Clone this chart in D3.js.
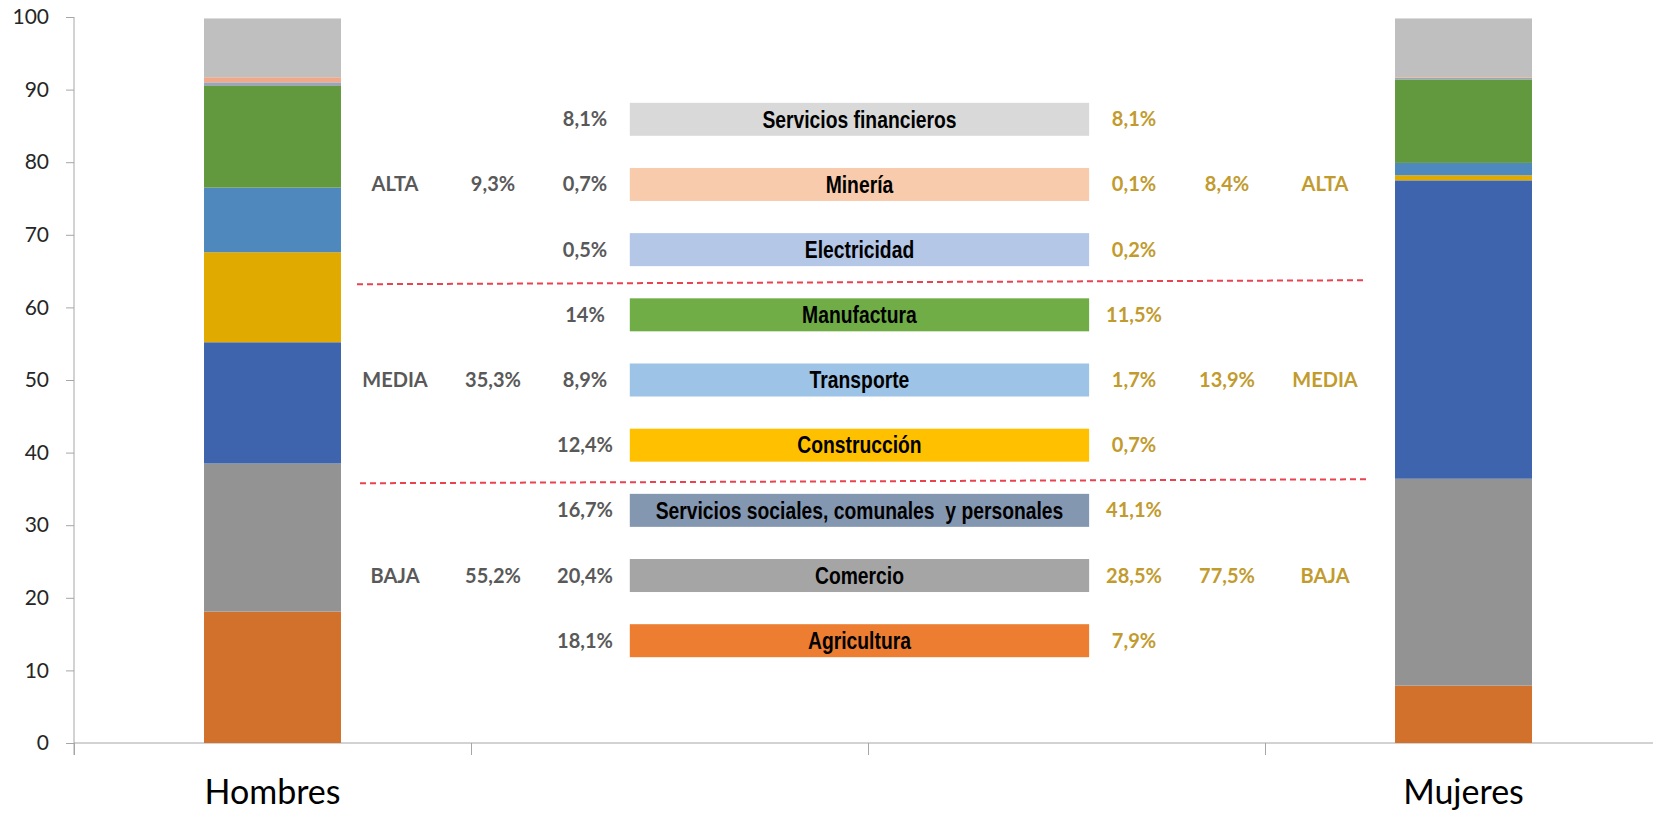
<!DOCTYPE html>
<meta charset="utf-8">
<style>
    body { margin: 0; background: #fff; }
    .axis path, .axis line { stroke: #a6a6a6; }
    .axis text { font-family: Lato, "Open Sans", sans-serif; fill: #262626; }
    .box-label { font-family: "Liberation Sans", Arial, sans-serif; font-weight: bold; font-size: 23px; fill: #000; white-space: pre; }
    .pct { font-family: Lato, "Open Sans", sans-serif; font-weight: bold; font-size: 20px; }
    .pct.h { fill: #595959; }
    .pct.m { fill: #c29b2e; }
    .cat { font-family: Lato, "Open Sans", sans-serif; font-size: 34px; fill: #000; }
</style>
<body>
<div id="chart"></div>
<script src="https://cdn.jsdelivr.net/npm/d3@7"></script>
<script>
    // sectors, stacked from bottom to top
    var sectors = ["Agricultura", "Comercio", "Servicios sociales, comunales  y personales", "Construcción",
        "Transporte", "Manufactura", "Electricidad", "Minería", "Servicios financieros"];
    var hombres = [18.1, 20.4, 16.7, 12.4, 8.9, 14, 0.5, 0.7, 8.1];
    var mujeres = [7.9, 28.5, 41.1, 0.7, 1.7, 11.5, 0.2, 0.1, 8.1];

    // productivity groups (bottom to top) and their totals
    var groups = ["BAJA", "MEDIA", "ALTA"];
    var groupRow = [1, 4, 7]; // sector index where the group label sits
    var hombresGrupo = [55.2, 35.3, 9.3];
    var mujeresGrupo = [77.5, 13.9, 8.4];

    var categories = ["Hombres", "c2", "c3", "Mujeres"];
    var yTicks = [0, 10, 20, 30, 40, 50, 60, 70, 80, 90, 100];

    var barColors = ["#d2712b", "#939393", "#3d64ad", "#e0aa00", "#4e88bd", "#63993e", "#9aa5b5", "#f0a88a", "#bfbfbf"];
    var boxColors = ["#ed7d31", "#a5a5a5", "#8497b0", "#ffc000", "#9dc3e6", "#70ad47", "#b4c7e7", "#f8cbad", "#d9d9d9"];

    var W = 1653, H = 813;
    var margin = {top: 17, left: 74, bottom: 70};
    var plotBottom = H - margin.bottom; // 743

    var svg = d3.select("#chart").append("svg")
        .attr("width", W)
        .attr("height", H);

    var y = d3.scaleLinear().domain([0, 100]).range([plotBottom, margin.top]);

    var x = d3.scaleBand().domain(categories).range([margin.left, margin.left + 397 * 4]);
    var xl = d3.scaleLinear().domain([0, 4]).range(x.range());
    var barW = x.bandwidth() * 0.345;

    // y axis
    svg.append("g")
        .attr("class", "axis")
        .attr("transform", "translate(" + margin.left + ",0)")
        .call(d3.axisLeft(y).tickValues(yTicks).tickSize(8).tickPadding(17))
        .call(function (g) {
            g.select(".domain").attr("d", "M0," + (plotBottom + 12) + "V" + margin.top);
            g.selectAll("text").style("font-size", "21px");
        });

    // x axis: ticks between categories
    svg.append("g")
        .attr("class", "axis")
        .attr("transform", "translate(0," + plotBottom + ")")
        .call(d3.axisBottom(xl).tickValues([0, 1, 2, 3, 4]).tickFormat("").tickSize(12).tickSizeOuter(0))
        .call(function (g) {
            g.select(".domain").attr("d", "M" + margin.left + ",0H" + W);
        });

    // stacked bars
    function stackOf(vals) {
        var acc = 0;
        return vals.map(function (v, i) {
            var d = {i: i, y0: acc, y1: acc + v};
            acc += v;
            return d;
        });
    }

    [["Hombres", hombres], ["Mujeres", mujeres]].forEach(function (s) {
        svg.append("g").selectAll("rect")
            .data(stackOf(s[1]))
            .enter().append("rect")
            .attr("x", x(s[0]) + (x.bandwidth() - barW) / 2)
            .attr("width", barW)
            .attr("y", function (d) { return y(d.y1); })
            .attr("height", function (d) { return y(d.y0) - y(d.y1); })
            .attr("fill", function (d) { return barColors[d.i]; });
    });

    // category labels
    svg.append("g").selectAll("text")
        .data(["Hombres", "Mujeres"])
        .enter().append("text")
        .attr("class", "cat")
        .attr("x", function (d) { return x(d) + x.bandwidth() / 2; })
        .attr("y", 804)
        .attr("text-anchor", "middle")
        .text(function (d) { return d; });

    // legend rows in the middle
    var row = d3.scalePoint().domain(d3.range(sectors.length)).range([640.7, 119.3]);
    var boxH = 33;
    var boxX0 = xl(1.4), boxX1 = xl(2.557);
    var fmt = d3.formatLocale({decimal: ",", thousands: ".", grouping: [3], currency: ["", "€"]}).format(".1~f");

    var rows = svg.append("g").selectAll("g")
        .data(sectors)
        .enter().append("g")
        .attr("transform", function (d, i) { return "translate(0," + row(i) + ")"; });

    rows.append("rect")
        .attr("x", boxX0)
        .attr("y", -boxH / 2)
        .attr("width", boxX1 - boxX0)
        .attr("height", boxH)
        .attr("fill", function (d, i) { return boxColors[i]; });

    // narrow bold look: squeeze a regular bold face horizontally
    rows.append("text")
        .attr("class", "box-label")
        .attr("transform", "translate(" + (boxX0 + boxX1) / 2 + ",0) scale(0.84,1)")
        .attr("dy", "0.36em")
        .attr("text-anchor", "middle")
        .text(function (d) { return d; });

    rows.append("text")
        .attr("class", "pct h")
        .attr("x", 585)
        .attr("dy", "0.35em")
        .attr("text-anchor", "middle")
        .text(function (d, i) { return fmt(hombres[i]) + "%"; });

    rows.append("text")
        .attr("class", "pct m")
        .attr("x", 1134)
        .attr("dy", "0.35em")
        .attr("text-anchor", "middle")
        .text(function (d, i) { return fmt(mujeres[i]) + "%"; });

    // group labels
    var grp = svg.append("g").selectAll("g")
        .data(groups)
        .enter().append("g")
        .attr("transform", function (d, i) { return "translate(0," + row(groupRow[i]) + ")"; });

    grp.append("text").attr("class", "pct h").attr("x", 395).attr("dy", "0.35em")
        .attr("text-anchor", "middle").text(function (d) { return d; });
    grp.append("text").attr("class", "pct h").attr("x", 493).attr("dy", "0.35em")
        .attr("text-anchor", "middle").text(function (d, i) { return fmt(hombresGrupo[i]) + "%"; });
    grp.append("text").attr("class", "pct m").attr("x", 1227).attr("dy", "0.35em")
        .attr("text-anchor", "middle").text(function (d, i) { return fmt(mujeresGrupo[i]) + "%"; });
    grp.append("text").attr("class", "pct m").attr("x", 1325).attr("dy", "0.35em")
        .attr("text-anchor", "middle").text(function (d) { return d; });

    // dashed separators between groups (slightly tilted like the original)
    var seps = [[(row(5) + row(6)) / 2, 357, 1366], [(row(2) + row(3)) / 2 + 3.5, 360, 1370]];
    svg.append("g").selectAll("line")
        .data(seps)
        .enter().append("line")
        .attr("x1", function (d) { return d[1]; })
        .attr("x2", function (d) { return d[2]; })
        .attr("y1", function (d) { return d[0] + 2; })
        .attr("y2", function (d) { return d[0] - 2; })
        .attr("stroke", "#e8434f")
        .attr("stroke-width", 2)
        .attr("stroke-dasharray", "6,4");
</script>
</body>
